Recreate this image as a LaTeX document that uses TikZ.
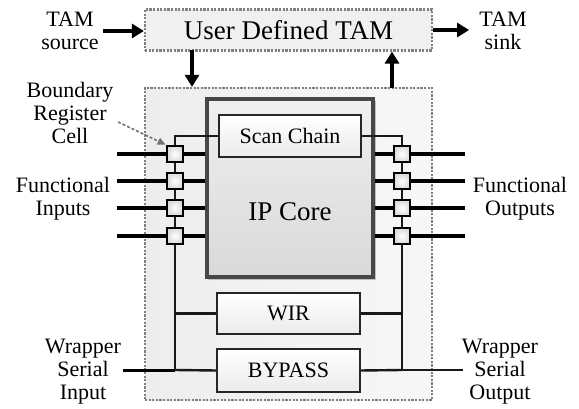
\documentclass[tikz,border=0pt]{standalone}
\usepackage{fontspec}
\setmainfont{Liberation Serif}
\usetikzlibrary{arrows.meta,shadings}
\begin{document}
\begin{tikzpicture}[x=1pt,y=-1pt,
  lbl/.style={font=\fontsize{22}{23}\selectfont, align=center, inner sep=0pt},
  dotbox/.style={draw=black!50, line width=2.2pt, dash pattern=on 2.2pt off 1.4pt},
  blk/.style={draw=black!85, line width=2.2pt, top color=white, bottom color=black!8, inner sep=0pt},
  cell/.style={draw=black, line width=2.8pt, minimum size=16pt, inner sep=0pt, inner color=white, outer color=black!14},
  fline/.style={line width=3.6pt, black},
  sline/.style={line width=2.4pt, black!90},
  arr/.style={line width=3.4pt, black, -{Triangle[length=12pt,width=14pt]}},
  ]
\useasboundingbox (0,0) rectangle (579,409);
% TAM
\node[dotbox, fill=black!6, minimum width=287pt, minimum height=41pt, inner sep=0pt,
      font=\fontsize{27}{28}\selectfont] (tam) at (288.5,30) {User Defined TAM};
\node[lbl] (src) at (70,31) {TAM\\source};
\node[lbl] (sink) at (503,31) {TAM\\sink};
\draw[arr] (src.east) ++(4,0) coordinate (s1) -- (s1 -| tam.west);
\draw[arr] (tam.east) -- ++(36,0) coordinate (k1);
% wrapper
\node[dotbox, left color=black!7, right color=black!3, minimum width=287pt, minimum height=312pt, inner sep=0pt] (wrap) at (288.5,244) {};
\draw[arr] (192,50) coordinate (d0) -- (d0 |- wrap.north);
\draw[arr] (392,88) coordinate (u0) -- (u0 |- tam.south);
% IP core
\fill[black!25] (208,101) rectangle (376,280);
\node[draw=black!72, line width=3.4pt, top color=black!6, bottom color=black!15, minimum width=166pt, minimum height=178pt, inner sep=0pt] (core) at (290,188) {};
\node[font=\fontsize{27}{28}\selectfont] (ipc) at (290,212) {IP Core};
\node[blk, minimum width=142pt, minimum height=42pt, font=\fontsize{22}{23}\selectfont] (scan) at (290,136) {Scan Chain};
\node[blk, minimum width=143pt, minimum height=41pt, font=\fontsize{22}{23}\selectfont] (wir) at (288.5,313.5) {WIR};
\node[blk, minimum width=143pt, minimum height=43pt, font=\fontsize{22}{23}\selectfont] (byp) at (288.5,370.5) {BYPASS};
% cells
\foreach \i/\y in {1/154,2/181,3/208,4/236}{
  \coordinate (li\i) at (117,\y);
  \coordinate (ro\i) at (465,\y);
  \coordinate (lc\i) at (175,\y);
  \coordinate (rc\i) at (402,\y);
  \draw[fline] (li\i) -- (lc\i -| core.west);
  \draw[fline] (rc\i -| core.east) -- (ro\i);
}
\draw[sline] (175,154) -- (175,370) coordinate (lj);
\draw[sline] (402,154) -- (402,370) coordinate (rj);
\foreach \i/\y in {1/154,2/181,3/208,4/236}{
  \node[cell] (L\i) at (175,\y) {};
  \node[cell] (R\i) at (402,\y) {};
}
% scan chain links
\draw[sline] (L1.north) |- (scan.west);
\draw[sline] (scan.east) -| (R1.north);
% serial paths
\coordinate (wsi) at (123,370);
\coordinate (wso) at (463,370);
\draw[sline] (wir.west -| lj) -- (wir.west);
\draw[sline] (wir.east) -- (wir.east -| rj);
\draw[sline] (lj) -- (byp.west);
\draw[sline] (byp.east) -- (rj);
\draw[line width=3pt, black] (wsi) -- (lj);
\draw[sline] (rj) -- (wso);
% labels
\node[lbl] (brc) at (70,113) {Boundary\\Register\\Cell};
\coordinate (brcs) at (118,122);
\draw[black!55, line width=1.6pt, dash pattern=on 3pt off 2pt, -{Triangle[length=8pt,width=7pt]}] (brcs) -- (L1.north west);
\node[lbl] (fin) at (63,199) {Functional\\Inputs};
\node[lbl] (fout) at (520,199) {Functional\\Outputs};
\node[lbl] (wsil) at (83,372) {Wrapper\\Serial\\Input};
\node[lbl] (wsol) at (500,372) {Wrapper\\Serial\\Output};
\end{tikzpicture}
\end{document}
